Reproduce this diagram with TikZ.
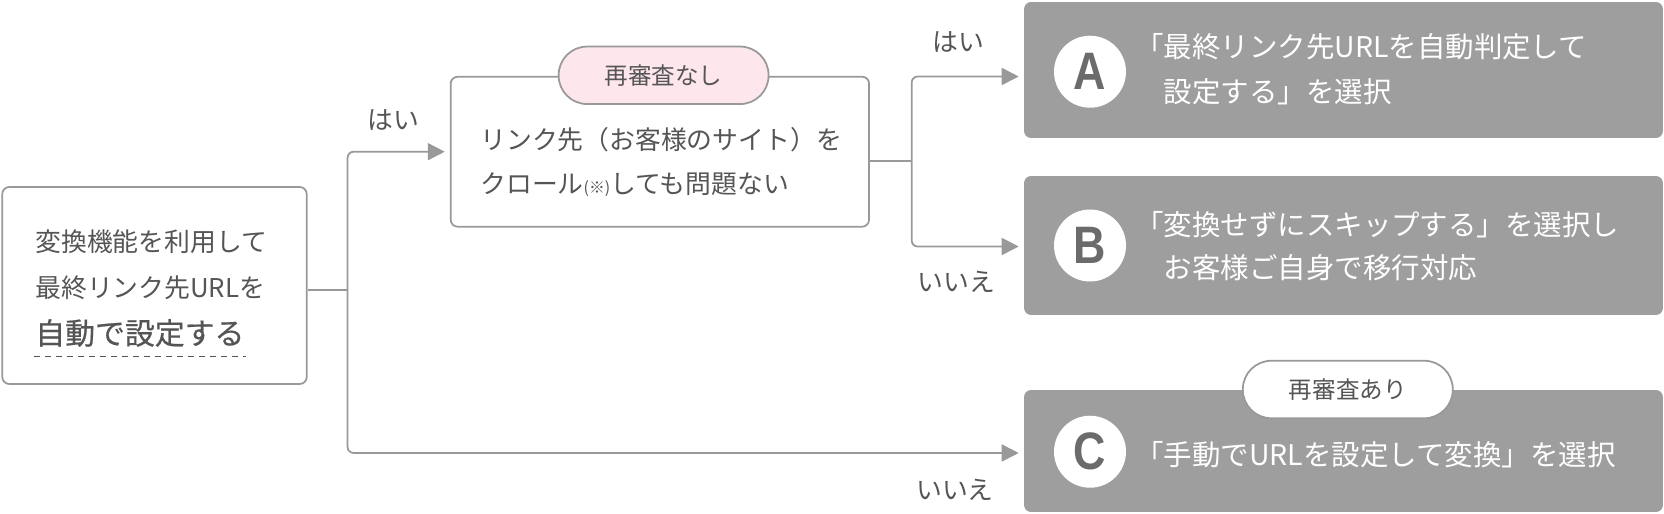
\documentclass[tikz,border=0pt]{standalone}
\usepackage{fontspec}
\setmainfont{Noto Sans CJK JP}
\newfontfamily\heavyfont[FakeBold=0.6]{Noto Sans CJK JP}
\newfontfamily\letterfont[FakeStretch=0.85]{Liberation Sans}
\usetikzlibrary{arrows.meta,positioning}

\definecolor{linegray}{HTML}{999999}
\definecolor{boxgray}{HTML}{9E9E9E}
\definecolor{textgray}{HTML}{555555}
\definecolor{lettergray}{HTML}{6B6B6B}
\definecolor{tagpink}{HTML}{FDE6EC}

\tikzset{
	box/.style={draw=linegray, line width=1pt, rounded corners=0.14cm, fill=white},
	result/.style={fill=boxgray, rounded corners=0.14cm, minimum width=12.78cm},
	tag/.style={draw=linegray, line width=1pt, rounded corners=0.57cm, minimum width=4.2cm,
		minimum height=1.15cm, text=textgray, font=\fontsize{13.4}{16}\selectfont},
	badge/.style={circle, fill=white, minimum size=1.44cm, inner sep=0pt, text=lettergray,
		font=\letterfont\bfseries\fontsize{30}{30}\selectfont},
	txt/.style={anchor=west, inner sep=0pt, text=textgray, font=\fontsize{14.7}{18}\selectfont},
	wtxt/.style={anchor=west, inner sep=0pt, text=white, font=\fontsize{16.2}{20}\selectfont},
	lbl/.style={text=textgray, font=\fontsize{14.7}{18}\selectfont},
	link/.style={draw=linegray, line width=1pt, rounded corners=0.12cm},
	arrowlink/.style={link, -{Triangle[length=0.34cm, width=0.34cm]}, shorten >=0.1cm}
}

\begin{document}
\begin{tikzpicture}[x=0.02cm, y=-0.02cm]
		\useasboundingbox (0,0) rectangle (1664,514);
		
		% start
		\node[box, minimum width=6.09cm, minimum height=3.94cm] (start) at (154.5,285.5) {};
		\node[txt] (s1) at (35,241.7) {変換機能を利用して};
		\node[txt] (s2) at (35,288) {最終リンク先URLを};
		\node[txt, font=\heavyfont\fontsize{17}{20}\selectfont] (s3) at (35,333) {自動で設定する};
		\draw[textgray, line width=0.9pt, dash pattern=on 0.12cm off 0.1cm] (34,356.7) -- (246,356.7);
		
		% question
		\node[box, minimum width=8.37cm, minimum height=3cm] (q) at (659.9,151.7) {};
		\node[tag, fill=tagpink] (norecheck) at (663.6,75.3) {再審査なし};
		\node[txt] (q1) at (480,140) {リンク先（お客様のサイト）を};
		\node[txt] (q2) at (480,185) {クロール{\fontsize{9}{9}\selectfont (※)}しても問題ない};
		
		% results
		\node[result, minimum height=2.72cm] (A) at (1343.5,70) {};
		\node[result, minimum height=2.78cm] (B) at (1343.5,245.5) {};
		\node[result, minimum height=2.44cm] (C) at (1343.5,451) {};
		\node[tag, fill=white] (recheck) at (1347.8,389.5) {再審査あり};
		
		\node[badge] (badgeA) at (1090,71.7) {A};
		\node[badge] (badgeB) at (1090,245.5) {B};
		\node[badge] (badgeC) at (1090,451.7) {C};
		
		\node[wtxt] (a1) at (1135,46.7) {「最終リンク先URLを自動判定して};
		\node[wtxt] (a2) at (1163.5,91.7) {設定する」を選択};
		\node[wtxt] (b1) at (1135,225) {「変換せずにスキップする」を選択し};
		\node[wtxt] (b2) at (1163.5,268) {お客様ご自身で移行対応};
		\node[wtxt] (c1) at (1135,455) {「手動でURLを設定して変換」を選択};
		
		% connectors
		\draw[link] ([yshift=-0.09cm]start.east) -- ++(40,0) coordinate (j1);
		\draw[arrowlink] (j1) |- (q.west);
		\draw[arrowlink] (j1) |- ([yshift=-0.04cm]C.west);
		\draw[link] ([yshift=-0.18cm]q.east) -- ++(41.7,0) coordinate (j2);
		\draw[arrowlink] (j2) |- ([yshift=-0.13cm]A.west);
		\draw[arrowlink] (j2) |- ([yshift=-0.02cm]B.west);
		
		% labels
		\node[lbl] (yes1) at (393,120) {はい};
		\node[lbl] (no1) at (955,490) {いいえ};
		\node[lbl] (yes2) at (958,41.7) {はい};
		\node[lbl] (no2) at (956.7,281.7) {いいえ};
	\end{tikzpicture}
\end{document}
